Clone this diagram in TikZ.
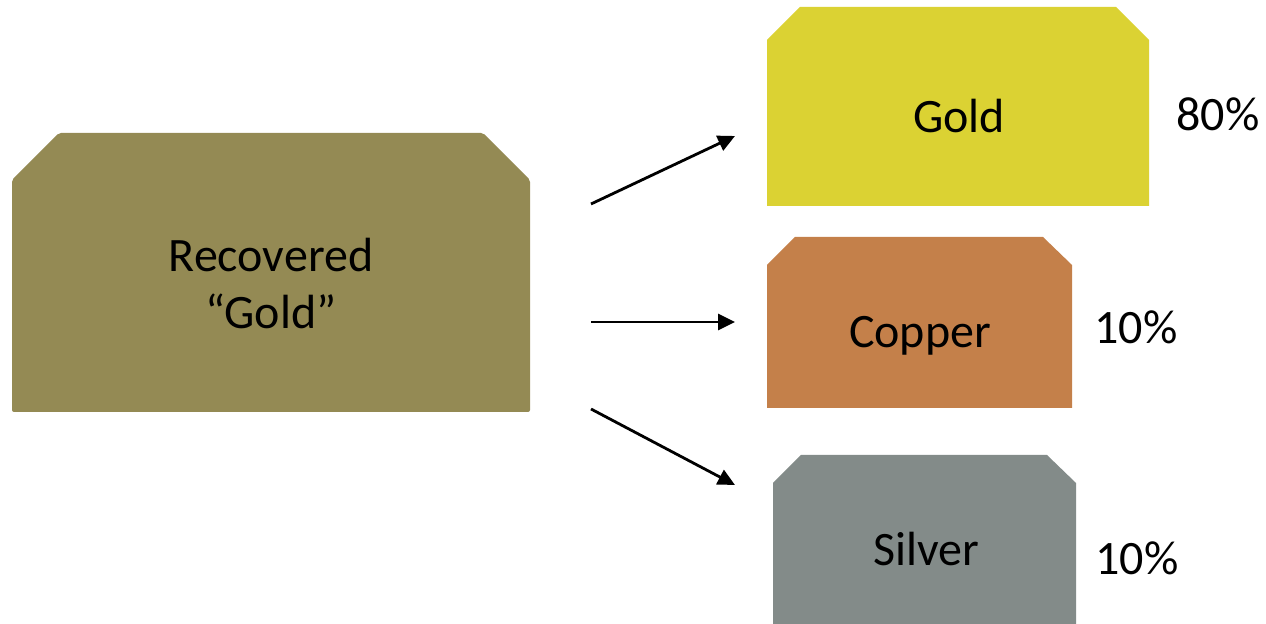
\documentclass[tikz,border=0pt]{standalone}
\usepackage{fontspec}
\setmainfont{Carlito}
\usetikzlibrary{arrows.meta}
\definecolor{recov}{HTML}{948A54}
\definecolor{goldc}{HTML}{DBD233}
\definecolor{copperc}{HTML}{C4804A}
\definecolor{silverc}{HTML}{838B89}
\tikzset{
  lbl/.style={font=\fontsize{24}{28.5}\selectfont, text=black, inner sep=0pt, anchor=base},
  flow/.style={line width=1.4pt, -{Triangle[length=8.5pt,width=8pt]}}
}
\begin{document}
\begin{tikzpicture}[x=0.5pt,y=-0.5pt]
\useasboundingbox (0,0) rectangle (1266,624);
% bars
\fill[recov, rounded corners=1pt] (12,180)--(59,133)--(483,133)--(530,180)--(530,412)--(12,412)--cycle;
\fill[goldc] (767,40)--(800,7)--(1116,7)--(1149,40)--(1149,206)--(767,206)--cycle;
\fill[copperc] (767,265)--(795,237)--(1043,237)--(1072,265)--(1072,408)--(767,408)--cycle;
\fill[silverc] (773,483)--(801,455)--(1047,455)--(1076,483)--(1076,624)--(773,624)--cycle;
% labels
\node[lbl] (rec1) at (271,272) {Recovered};
\node[lbl] (rec2) at (271,329) {“Gold”};
\node[lbl] (gold) at (959,133) {Gold};
\node[lbl] (copper) at (920,348) {Copper};
\node[lbl] (silver) at (926,566) {Silver};
\node[lbl] (p1) at (1218,131) {80\%};
\node[lbl] (p2) at (1136,344) {10\%};
\node[lbl] (p3) at (1137,575) {10\%};
% arrow ends
\coordinate (s1) at (591,204);
\coordinate (e1) at (735,136);
\coordinate (s2) at (591,322);
\coordinate (e2) at (735,322);
\coordinate (s3) at (591,409);
\coordinate (e3) at (735,485);
\draw[flow] (s1) -- (e1);
\draw[flow] (s2) -- (e2);
\draw[flow] (s3) -- (e3);
\end{tikzpicture}
\end{document}
